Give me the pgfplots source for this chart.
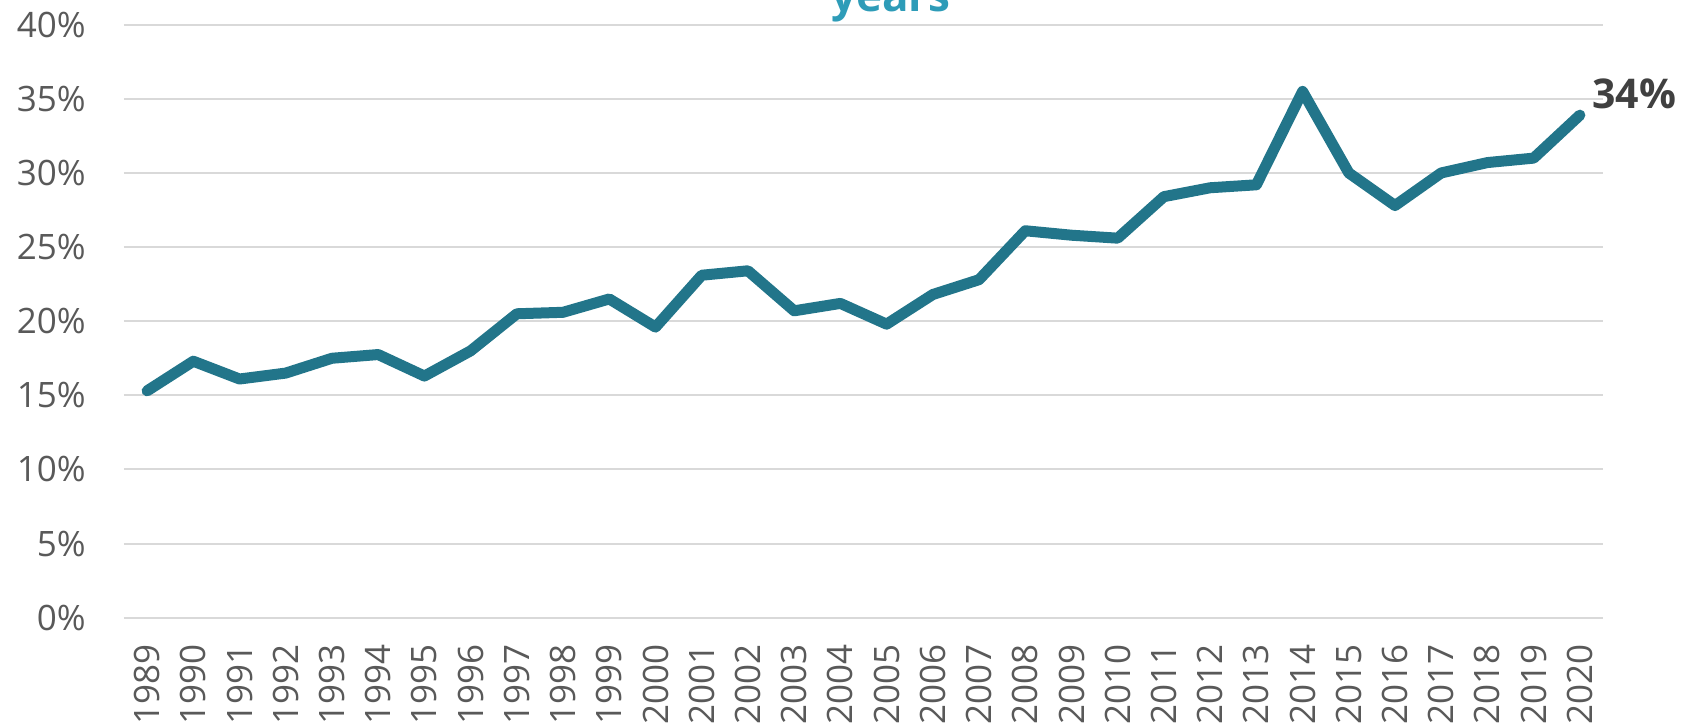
\documentclass[border=0pt]{standalone}
\usepackage{fontspec}
\setmainfont{Open Sans}
\usepackage{pgfplots}
\pgfplotsset{compat=1.18}
\definecolor{linecol}{HTML}{22758A}
\definecolor{titlecol}{HTML}{2E9CB8}
\definecolor{tickcol}{HTML}{595959}
\definecolor{gridcol}{HTML}{D9D9D9}
\definecolor{lblcol}{HTML}{404040}
\begin{document}
\begin{tikzpicture}
\begin{axis}[
  at={(0,0)}, anchor=south west,
  scale only axis, width=739.5pt, height=296.5pt,
  xmin=1988.5, xmax=2020.5, ymin=0, ymax=40,
  xtick=data, ytick={0,5,...,40},
  axis line style={draw=none},
  major tick length=0pt,
  ymajorgrids, grid style={gridcol, line width=1pt},
  /pgf/number format/assume math mode=true,
  /pgf/number format/1000 sep={},
  yticklabel={\pgfmathprintnumber{\tick}\%},
  ticklabel style={font=\fontsize{17.5}{21}\selectfont, text=tickcol},
  yticklabel style={anchor=east, inner sep=0pt, xshift=-19pt},
  xticklabel style={rotate=90, anchor=east, inner sep=0pt, xshift=-13pt},
  clip=false,
]
\addplot[linecol, line width=5.5pt, line cap=round, line join=round] coordinates {
(1989,15.3) (1990,17.3) (1991,16.1) (1992,16.5) (1993,17.5) (1994,17.75)
(1995,16.3) (1996,18.0) (1997,20.5) (1998,20.6) (1999,21.5) (2000,19.6)
(2001,23.1) (2002,23.4) (2003,20.7) (2004,21.2) (2005,19.8) (2006,21.8)
(2007,22.8) (2008,26.1) (2009,25.8) (2010,25.6) (2011,28.4) (2012,29.0)
(2013,29.2) (2014,35.5) (2015,30.0) (2016,27.8) (2017,30.0) (2018,30.7)
(2019,31.0) (2020,33.9)
};
\node[anchor=base west, inner sep=0pt, xshift=6pt, text=lblcol,
  font=\fontsize{20.5}{24}\selectfont\bfseries] at (axis cs:2020,34.38) {34\%};
\end{axis}
\node[anchor=base, inner sep=0pt, text=titlecol, font=\fontsize{22}{26}\selectfont\bfseries]
  at (383.5pt,302.85pt) {years};
\pgfresetboundingbox
\useasboundingbox (-62pt,-54.15pt) rectangle (779pt,308.85pt);
\end{tikzpicture}
\end{document}
